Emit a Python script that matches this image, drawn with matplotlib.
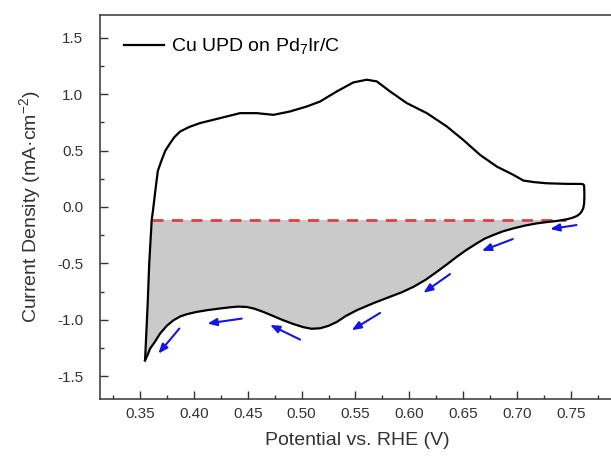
import numpy as np
import matplotlib.pyplot as plt
from matplotlib.ticker import MultipleLocator

plt.rcParams['font.family'] = ['Liberation Sans', 'DejaVu Sans']
plt.rcParams['mathtext.fontset'] = 'custom'
plt.rcParams['mathtext.rm'] = 'Liberation Sans'
plt.rcParams['mathtext.default'] = 'regular'

# CV loop (potential V vs RHE, current density mA/cm2)
potential = [0.3546, 0.3554, 0.3570, 0.3585, 0.3608, 0.3620, 0.3645, 0.3665, 0.3701,
             0.3735, 0.3779, 0.3820, 0.3871, 0.3960, 0.4057, 0.4243, 0.4428, 0.4584,
             0.4738, 0.4893, 0.5048, 0.5171, 0.5326, 0.5480, 0.5605, 0.5698, 0.5821,
             0.5976, 0.6162, 0.6348, 0.6500, 0.6657, 0.6812, 0.6967, 0.7059, 0.7160,
             0.7276, 0.7450, 0.7600, 0.7615, 0.7623, 0.7625, 0.7623, 0.7615, 0.7600,
             0.7580, 0.7555, 0.7510, 0.7460, 0.7369, 0.7280, 0.7183, 0.7080, 0.6967,
             0.6870, 0.6780, 0.6700, 0.6626, 0.6530, 0.6440, 0.6350, 0.6255, 0.6150,
             0.6038, 0.5930, 0.5820, 0.5670, 0.5512, 0.5410, 0.5326, 0.5250, 0.5171,
             0.5090, 0.5016, 0.4920, 0.4830, 0.4735, 0.4645, 0.4560, 0.4490, 0.4410,
             0.4336, 0.4230, 0.4119, 0.4020, 0.3934, 0.3870, 0.3810, 0.3750, 0.3686,
             0.3640, 0.3593, 0.3570, 0.3546]
current = [-1.357, -1.200, -0.870, -0.500, -0.115, -0.030, 0.170, 0.320, 0.417,
           0.500, 0.565, 0.620, 0.668, 0.710, 0.743, 0.787, 0.831, 0.831,
           0.816, 0.846, 0.890, 0.934, 1.023, 1.103, 1.127, 1.112, 1.023,
           0.920, 0.831, 0.713, 0.594, 0.461, 0.358, 0.284, 0.234, 0.220,
           0.210, 0.205, 0.204, 0.200, 0.190, 0.100, 0.033, -0.010, -0.040,
           -0.063, -0.080, -0.097, -0.109, -0.124, -0.133, -0.145, -0.163, -0.189,
           -0.215, -0.248, -0.280, -0.322, -0.380, -0.441, -0.507, -0.574, -0.645,
           -0.707, -0.755, -0.795, -0.850, -0.914, -0.965, -1.018, -1.052, -1.074,
           -1.078, -1.064, -1.035, -1.003, -0.965, -0.929, -0.900, -0.885, -0.882,
           -0.888, -0.900, -0.914, -0.930, -0.949, -0.970, -1.003, -1.050, -1.120,
           -1.190, -1.254, -1.310, -1.357]

baseline = -0.115
baseline_range = [0.3608, 0.745]

# scan-direction arrows: (tail V, tail j, head V, head j)
arrows = [(0.7552, -0.160, 0.7307, -0.195),
          (0.6960, -0.284, 0.6673, -0.388),
          (0.6378, -0.594, 0.6130, -0.760),
          (0.5728, -0.938, 0.5465, -1.091),
          (0.4986, -1.174, 0.4707, -1.044),
          (0.4444, -0.988, 0.4125, -1.032),
          (0.3865, -1.076, 0.3670, -1.298)]

v = np.array(potential)
j = np.array(current)

fig = plt.figure(figsize=(6.11, 4.57), dpi=100)
ax = fig.add_axes([100/611, 58/457, 514/611, 384/457])

ax.fill(v, np.minimum(j, baseline), color='#cacaca', lw=0, zorder=1)
ax.plot(baseline_range, [baseline, baseline], color='#d9423f', lw=2,
        dashes=(4, 3), zorder=2)
ax.plot(v, j, color='black', lw=1.6, zorder=3, label='Cu UPD on Pd$_7$Ir/C')

for x0, y0, x1, y1 in arrows:
    ax.annotate('', xy=(x1, y1), xytext=(x0, y0),
                arrowprops=dict(arrowstyle='-|>,head_length=0.55,head_width=0.22',
                                color='#1515e6', lw=1.5, shrinkA=0, shrinkB=0))

ax.set_xlim(0.3128, 0.79)
ax.set_ylim(-1.7, 1.7)
ax.xaxis.set_minor_locator(MultipleLocator(0.025))
ax.yaxis.set_major_locator(MultipleLocator(0.5))
ax.yaxis.set_minor_locator(MultipleLocator(0.25))
xt = np.arange(0.35, 0.751, 0.05)
ax.set_xticks(xt)
ax.set_xticklabels(['%.2f' % t for t in xt])
yt = np.arange(-1.5, 1.51, 0.5)
ax.set_yticks(yt)
ax.set_yticklabels(['%.1f' % t for t in yt])
ax.tick_params(which='both', direction='in', labelsize=11, colors='#333333',
               labelcolor='#333333', width=1)
ax.tick_params(which='major', length=6)
ax.tick_params(which='minor', length=3)
ax.tick_params(axis='y', pad=12)
ax.tick_params(axis='x', pad=6)
for s in ax.spines.values():
    s.set_color('#444444')
    s.set_linewidth(1.2)

ax.set_xlabel('Potential vs. RHE (V)', fontsize=14, color='#333333', labelpad=8)
ax.set_ylabel('Current Density (mA·cm$^{-2}$)', fontsize=14, color='#333333', labelpad=10)

ax.legend(loc='upper left', bbox_to_anchor=(0.012, 0.99), frameon=False,
          fontsize=14, handlelength=2.05, handletextpad=0.4)

fig.savefig('out.png', dpi=100)
